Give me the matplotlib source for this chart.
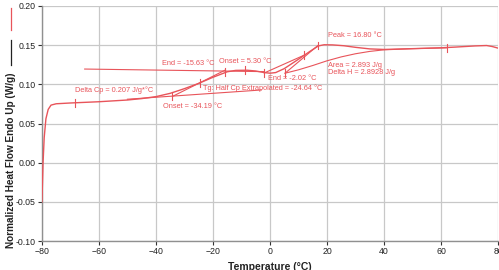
import numpy as np
import matplotlib
matplotlib.use("Agg")
import matplotlib.pyplot as plt
from matplotlib.lines import Line2D

plt.rcParams['font.family'] = ['Liberation Sans', 'DejaVu Sans']

# DSC trace
temp = [-80, -79.6, -79.2, -78.6, -77.8, -76.8, -75, -70, -60, -50, -45, -40,
        -35, -30, -25, -20, -15, -12, -8, -5, -2, 0, 2, 5, 10, 14, 17, 19,
        22, 26, 30, 35, 40, 50, 60, 65, 72, 76, 78, 80]
heat_flow = [-0.050, 0.000, 0.032, 0.056, 0.068, 0.0735, 0.0752, 0.0762, 0.0778,
             0.0800, 0.0818, 0.0843, 0.0885, 0.0945, 0.1012, 0.1090, 0.1160,
             0.1178, 0.1180, 0.1170, 0.1150, 0.1142, 0.1150, 0.1200, 0.1320,
             0.1420, 0.1490, 0.1505, 0.1503, 0.1492, 0.1472, 0.1452, 0.1445,
             0.1455, 0.1466, 0.1475, 0.1490, 0.1495, 0.1482, 0.1462]

# construction lines (Tg analysis and peak integration)
upper_base_t = [-65, -2]
upper_base_y = [0.1195, 0.1162]
lower_base_t = [-50, -3]
lower_base_y = [0.0810, 0.0928]
tg_tangent_t = [-34.19, -15.63]
tg_tangent_y = [0.0846, 0.1183]
peak_tan1_t = [-2.02, 12]
peak_tan1_y = [0.1145, 0.1372]
peak_tan2_t = [5.30, 16.8]
peak_tan2_y = [0.1142, 0.1495]
area_base_t = [5.30, 10, 15, 20, 25, 30, 35, 40, 50, 62]
area_base_y = [0.1142, 0.1185, 0.1240, 0.1300, 0.1350, 0.1390, 0.1420, 0.1440, 0.1455, 0.1466]

# small tick markers along the trace
mark_t = [-68.4, -34.19, -24.64, -15.63, -8.8, -2.02, 5.30, 12, 16.8, 62]
mark_y = [0.0765, 0.0846, 0.1012, 0.1162, 0.1180, 0.1146, 0.1142, 0.1372, 0.1495, 0.1466]

labels = [
    (-68.4, 0.0925, "Delta Cp = 0.207 J/g*°C"),
    (-37.9, 0.1270, "End = -15.63 °C"),
    (-17.9, 0.1285, "Onset = 5.30 °C"),
    (-23.5, 0.0945, "Tg: Half Cp Extrapolated = -24.64 °C"),
    (-37.5, 0.0715, "Onset = -34.19 °C"),
    (-0.7, 0.1080, "End = -2.02 °C"),
    (20.4, 0.1620, "Peak = 16.80 °C"),
    (20.4, 0.1238, "Area = 2.893 J/g"),
    (20.4, 0.1155, "Delta H = 2.8928 J/g"),
]

red = '#e8545a'

fig = plt.figure(figsize=(4.99, 2.70), dpi=100)
ax = fig.add_axes([0.084, 0.107, 0.914, 0.871])

ax.plot(temp, heat_flow, color=red, lw=1.0, zorder=3)
for t, y in [(upper_base_t, upper_base_y), (lower_base_t, lower_base_y),
             (tg_tangent_t, tg_tangent_y), (peak_tan1_t, peak_tan1_y),
             (peak_tan2_t, peak_tan2_y), (area_base_t, area_base_y)]:
    ax.plot(t, y, color=red, lw=0.8, zorder=3)
for t, y in zip(mark_t, mark_y):
    ax.plot([t, t], [y - 0.005, y + 0.005], color=red, lw=0.8, zorder=3)
for x, y, s in labels:
    ax.text(x, y, s, color=red, fontsize=5.3, va='center', ha='left', zorder=4)

ax.set_xlim(-80, 80)
ax.set_ylim(-0.10, 0.20)
ax.set_xticks(np.arange(-80, 81, 20))
ax.set_yticks(np.arange(-0.10, 0.201, 0.05))
ax.set_yticklabels([f"{v:.2f}" for v in np.arange(-0.10, 0.201, 0.05)])
ax.grid(True, color='#c8c8c8', lw=0.9)
ax.set_axisbelow(True)
for side in ['top', 'right']:
    ax.spines[side].set_visible(False)
for side in ['left', 'bottom']:
    ax.spines[side].set_color('#909090')
    ax.spines[side].set_linewidth(1.0)
ax.tick_params(labelsize=6.3, colors='#333333', length=3, width=0.8,
               labelcolor='#222222', pad=1.5)

fig.text(0.541, 0.012, "Temperature (°C)", ha='center', va='center',
         fontsize=7.5, fontweight='bold', color='#222222')
fig.text(0.022, 1 - 160 / 270, "Normalized Heat Flow Endo Up (W/g)", rotation=90,
         ha='center', va='center', fontsize=7.2, fontweight='bold', color='#222222')
fig.add_artist(Line2D([0.022, 0.022], [1 - 65 / 270, 1 - 40 / 270], color='#222222', lw=0.9))
fig.add_artist(Line2D([0.022, 0.022], [1 - 30 / 270, 1 - 8 / 270], color=red, lw=0.9))

fig.savefig("out.png", dpi=100)
